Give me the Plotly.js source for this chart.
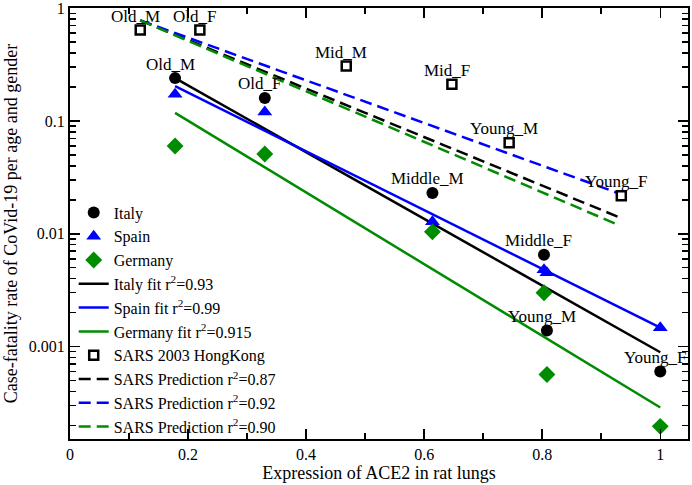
<!DOCTYPE html>
<html>
<head>
<meta charset="utf-8">
<script src="https://cdn.plot.ly/plotly-3.0.1.min.js"></script>
<style>
  html, body { margin: 0; padding: 0; background: #fff; }
  #plot { width: 692px; height: 485px; }
</style>
</head>
<body>
<div id="plot"></div>
<script>
"use strict";

// ── Observed case-fatality rates (x = ACE2 expression) ──
const italyX   = [0.178, 0.33, 0.614, 0.803, 0.808, 1.0];
const italyY   = [0.24, 0.16, 0.023, 0.0065, 0.00139, 0.0006];
const italyLab = ["Old_M", "Old_F", "Middle_M", "Middle_F", "Young_M", "Young_F"];

const spainX = [0.178, 0.33, 0.614, 0.803, 0.808, 1.0];
const spainY = [0.173, 0.12, 0.0128, 0.0048, 0.0045, 0.00147];

const germanyX = [0.178, 0.33, 0.614, 0.803, 0.808, 1.0];
const germanyY = [0.060, 0.051, 0.0104, 0.0030, 0.000565, 0.000196];

const sarsX   = [0.119, 0.22, 0.468, 0.647, 0.744, 0.934];
const sarsY   = [0.64, 0.64, 0.307, 0.212, 0.064, 0.0217];
const sarsLab = ["Old_M", "Old_F", "Mid_M", "Mid_F", "Young_M", "Young_F"];

// ── Fit lines (end points) ──
const fitX        = [0.178, 1.0];
const italyFitY   = [0.24, 0.00089];
const spainFitY   = [0.204, 0.00147];
const germanyFitY = [0.118, 0.000288];

const predX      = [0.119, 0.932];
const predBlackY = [0.78, 0.0139];
const predBlueY  = [0.78, 0.0226];
const predGreenY = [0.78, 0.0118];

const BLUE = "#0000ff", GREEN = "#008c00", FONT = "Liberation Serif, Times New Roman, serif";

function line(x, y, color, dash, name, rank) {
    return { type: "scatter", mode: "lines", x, y, name, legendrank: rank,
             line: { color, width: 2.5, dash } };
}
function pts(x, y, symbol, size, color, lineColor, lw, name, rank) {
    return { type: "scatter", mode: "markers", x, y, name, legendrank: rank,
             marker: { symbol, size, color, line: { color: lineColor, width: lw } } };
}

const DASH = "12px,6px";
const traces = [
    line(fitX, italyFitY, "black", "solid", "Italy fit r<sup>2</sup>=0.93", 4),
    line(fitX, spainFitY, BLUE, "solid", "Spain fit r<sup>2</sup>=0.99", 5),
    line(fitX, germanyFitY, GREEN, "solid", "Germany fit r<sup>2</sup>=0.915", 6),
    line(predX, predBlackY, "black", DASH, "SARS Prediction r<sup>2</sup>=0.87", 8),
    line(predX, predBlueY, BLUE, DASH, "SARS Prediction r<sup>2</sup>=0.92", 9),
    line(predX, predGreenY, GREEN, DASH, "SARS Prediction r<sup>2</sup>=0.90", 10),
    pts(italyX, italyY, "circle", 12, "black", "black", 0, "Italy", 1),
    pts(spainX, spainY, "triangle-up", 13, BLUE, BLUE, 0, "Spain", 2),
    pts(germanyX, germanyY, "diamond", 13, GREEN, GREEN, 0, "Germany", 3),
    pts(sarsX, sarsY, "square", 9, "white", "black", 2.5, "SARS 2003 HongKong", 7),
];

// point labels sit just above-left of each marker
const labelOf = (x, y, t) => ({
    x, y: Math.log10(y), text: t, showarrow: false,
    xshift: -5, yshift: 14, font: { family: FONT, size: 17, color: "black" },
});
const annotations = [
    ...italyX.map((x, i) => labelOf(x, italyY[i], italyLab[i])),
    ...sarsX.map((x, i) => labelOf(x, sarsY[i], sarsLab[i])),
];

const axisCommon = {
    showline: true, linecolor: "black", linewidth: 2, mirror: "allticks",
    ticks: "inside", ticklen: 10, tickwidth: 1.5, tickcolor: "black",
    showgrid: false, zeroline: false, ticklabeloverflow: "allow",
    tickfont: { family: FONT, size: 16, color: "black" },
};

const layout = {
    width: 692, height: 485,
    margin: { l: 70, r: 4, t: 8, b: 46 },
    paper_bgcolor: "white", plot_bgcolor: "white",
    font: { family: FONT, color: "black" },
    xaxis: { ...axisCommon, range: [0, 1.047], dtick: 0.2, tick0: 0,
             minor: { dtick: 0.1, ticks: "inside", ticklen: 6, tickcolor: "black", tickwidth: 1.5 },
             title: { text: "Expression of ACE2 in rat lungs", standoff: 4,
                      font: { family: FONT, size: 18, color: "black" } } },
    yaxis: { ...axisCommon, type: "log", range: [-3.82, 0.002], dtick: 1,
             exponentformat: "none",
             minor: { ticks: "inside", ticklen: 6, tickcolor: "black", tickwidth: 1.5 },
             title: { text: "Case-fatality rate of CoVid-19 per age and gender", standoff: 6,
                      font: { family: FONT, size: 18, color: "black" } } },
    showlegend: true,
    legend: { x: 0.006, y: 0.565, xanchor: "left", yanchor: "top",
              bgcolor: "rgba(0,0,0,0)", font: { family: FONT, size: 16, color: "black" },
              tracegroupgap: 0 },
    annotations,
};

Plotly.newPlot("plot", traces, layout, { displayModeBar: false, staticPlot: true });
</script>
</body>
</html>
